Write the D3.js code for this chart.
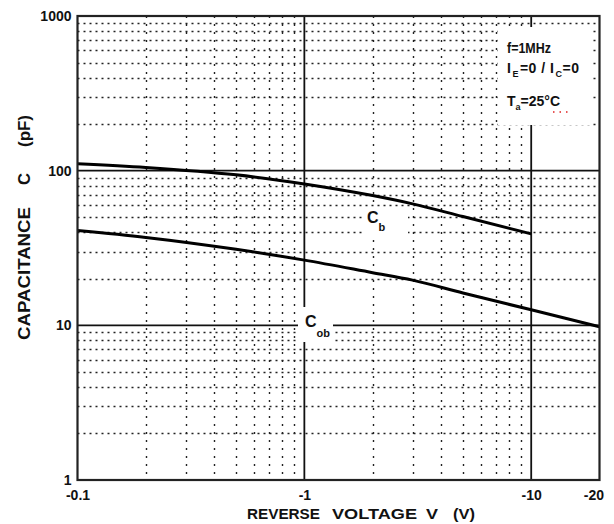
<!DOCTYPE html>
<html>
<head>
<meta charset="utf-8">
<script src="https://cdn.jsdelivr.net/npm/d3@7"></script>
<style>
  html, body { margin: 0; padding: 0; background: #fff; }
  svg { display: block; }
  text { font-family: "Liberation Sans", Arial, sans-serif; font-weight: bold; fill: #111; }
</style>
</head>
<body>
<svg id="chart" width="614" height="524"></svg>
<script>
// Reverse voltage (V, magnitude) and capacitance (pF) for the two curves
const vCib = [0.1, 0.2, 0.5, 1, 2, 3, 5, 10];
const cCib = [111, 105, 94, 82, 69, 61, 50.5, 39];
const vCob = [0.1, 0.2, 0.5, 1, 2, 3, 5, 10, 20];
const cCob = [41, 37, 31, 26.4, 21.9, 19.6, 16.2, 12.6, 9.8];

// Axis ticks and grid lines
const xTicks = [0.1, 1, 10, 20];
const yTicks = [1, 10, 100, 1000];
const xMajor = [1, 10];
const yMajor = [10, 100];
const xMinor = [0.2, 0.3, 0.4, 0.5, 0.6, 0.7, 0.8, 0.9, 2, 3, 4, 5, 6, 7, 8, 9];
const yMinor = [2, 3, 4, 5, 6, 7, 8, 9, 20, 30, 40, 50, 60, 70, 80, 90,
                200, 300, 400, 500, 600, 700, 800, 900];

const svg = d3.select("#chart");
const L = 77.5, R = 599.5, T = 16, B = 480;

const x = d3.scaleLog().domain([0.1, 20]).range([L, R]);
const y = d3.scaleLog().domain([1, 1000]).range([B, T]);

// dotted minor grid
const grid = svg.append("g");
grid.selectAll(".hmin").data(yMinor).join("line")
  .attr("x1", L).attr("x2", R)
  .attr("y1", d => Math.round(y(d)) + 0.5).attr("y2", d => Math.round(y(d)) + 0.5)
  .attr("stroke", "#222").attr("stroke-width", 1.4).attr("stroke-dasharray", "2,4");
grid.selectAll(".vmin").data(xMinor).join("line")
  .attr("y1", T).attr("y2", B)
  .attr("x1", d => Math.round(x(d)) + 0.5).attr("x2", d => Math.round(x(d)) + 0.5)
  .attr("stroke", "#222").attr("stroke-width", 1.4).attr("stroke-dasharray", "2,6");

// solid decade lines
grid.selectAll(".hmaj").data(yMajor).join("line")
  .attr("x1", L).attr("x2", R)
  .attr("y1", d => y(d)).attr("y2", d => y(d))
  .attr("stroke", "#111").attr("stroke-width", 1.8);
grid.selectAll(".vmaj").data(xMajor).join("line")
  .attr("y1", T).attr("y2", B)
  .attr("x1", d => x(d)).attr("x2", d => x(d))
  .attr("stroke", "#111").attr("stroke-width", 1.8);

// white backgrounds behind the labels
const bg = svg.append("g").attr("fill", "#fff");
bg.append("rect").attr("x", 498).attr("y", 27).attr("width", 94).attr("height", 98);
bg.append("rect").attr("x", 362).attr("y", 207).attr("width", 46).attr("height", 33);
bg.append("rect").attr("x", 298).attr("y", 307).attr("width", 35).attr("height", 35);

// capacitance curves
const line = d3.line().x(d => x(d[0])).y(d => y(d[1])).curve(d3.curveMonotoneX);
svg.append("path").datum(d3.zip(vCib, cCib)).attr("d", line)
  .attr("fill", "none").attr("stroke", "#000").attr("stroke-width", 3);
svg.append("path").datum(d3.zip(vCob, cCob)).attr("d", line)
  .attr("fill", "none").attr("stroke", "#000").attr("stroke-width", 3);

// frame
svg.append("rect").attr("x", L).attr("y", T).attr("width", R - L).attr("height", B - T)
  .attr("fill", "none").attr("stroke", "#222").attr("stroke-width", 2.2);

// axes
const yAxis = svg.append("g").attr("transform", `translate(${L},0)`)
  .call(d3.axisLeft(y).tickValues(yTicks).tickSize(0).tickPadding(6).tickFormat(d3.format("d")));
const xAxis = svg.append("g").attr("transform", `translate(0,${B})`)
  .call(d3.axisBottom(x).tickValues(xTicks).tickSize(0).tickPadding(10).tickFormat(d => "-" + d));
[yAxis, xAxis].forEach(g => {
  g.select(".domain").remove();
  g.selectAll("text").attr("font-family", "Liberation Sans, Arial, sans-serif")
    .attr("font-weight", "bold").attr("font-size", 14).attr("fill", "#111");
});
xAxis.selectAll(".tick").filter(d => d === 20).select("text")
  .attr("text-anchor", "end").attr("x", 4);

// helper: text squeezed to a given width
function label(parent, str, px, py, size, width) {
  const t = parent.append("text").attr("x", px).attr("y", py).attr("font-size", size).text(str);
  if (width) t.attr("textLength", width).attr("lengthAdjust", "spacingAndGlyphs");
  return t;
}

// axis titles
label(svg, "REVERSE", 247, 519, 15, 73);
label(svg, "VOLTAGE", 332, 519, 15, 85);
label(svg, "V", 426, 519, 15, 12);
label(svg, "(V)", 453, 519, 15, 22);

const yt = svg.append("g").attr("transform", "translate(30,0) rotate(-90)");
label(yt, "CAPACITANCE", -340, 0, 16, 133);
label(yt, "C", -185, 0, 16, 12);
label(yt, "(pF)", -147, 0, 16, 32);

// conditions
label(svg, "f=1MHz", 507, 53, 14, 44);
const ie = svg.append("text").attr("x", 507).attr("y", 73).attr("font-size", 14);
ie.append("tspan").text("I");
ie.append("tspan").attr("font-size", 9).attr("dy", 4).attr("dx", 1).text("E");
ie.append("tspan").attr("dy", -4).attr("dx", 1).text("=0 / I");
ie.append("tspan").attr("font-size", 9).attr("dy", 4).attr("dx", 1).text("C");
ie.append("tspan").attr("dy", -4).text("=0");
ie.attr("textLength", 72).attr("lengthAdjust", "spacing");

const ta = svg.append("text").attr("x", 507).attr("y", 106).attr("font-size", 14);
ta.append("tspan").text("T");
ta.append("tspan").attr("font-size", 9).attr("dy", 4).text("a");
ta.append("tspan").attr("dy", -4).text("=25°C");
svg.append("line").attr("x1", 553).attr("x2", 572).attr("y1", 112).attr("y2", 112)
  .attr("stroke", "#e02020").attr("stroke-width", 1.5).attr("stroke-dasharray", "1.5,5");

// curve labels
const lb = svg.append("text").attr("x", 367).attr("y", 223).attr("font-size", 16);
lb.append("tspan").text("C");
lb.append("tspan").attr("font-size", 11).attr("dy", 8).text("b");

const lo = svg.append("text").attr("x", 305).attr("y", 327).attr("font-size", 16);
lo.append("tspan").text("C");
lo.append("tspan").attr("font-size", 11).attr("dy", 10).text("ob");
</script>
</body>
</html>
